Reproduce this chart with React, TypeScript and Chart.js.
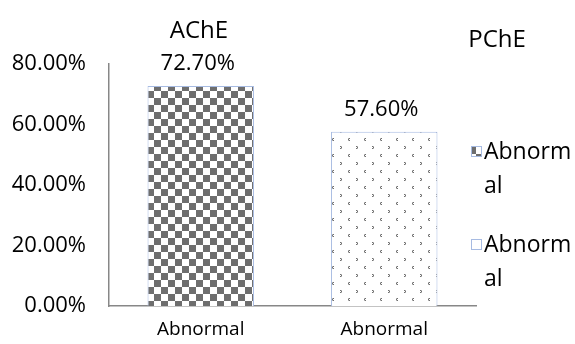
import { useEffect, useRef } from 'react';
import { Chart, registerables } from 'chart.js';

Chart.register(...registerables);

const categories = ['Abnormal', 'Abnormal'];
const seriesNames = ['Abnormal', 'Abnormal'];
const groupTitles = ['AChE', 'PChE'];
const acheValues: (number | null)[] = [72.7, null];
const pcheValues: (number | null)[] = [null, 57.6];
const yTickValues = [0, 20, 40, 60, 80];

const FONT = "'Open Sans', sans-serif";

function makeChecker(): CanvasPattern | string {
  const c = document.createElement('canvas');
  c.width = 14;
  c.height = 14;
  const g = c.getContext('2d');
  if (!g) return '#888';
  g.fillStyle = '#ffffff';
  g.fillRect(0, 0, 14, 14);
  g.fillStyle = '#6e6e6e';
  g.fillRect(0, 0, 7, 7);
  g.fillRect(7, 7, 7, 7);
  return g.createPattern(c, 'repeat') as CanvasPattern;
}

function makeDots(): CanvasPattern | string {
  const c = document.createElement('canvas');
  c.width = 16;
  c.height = 16;
  const g = c.getContext('2d');
  if (!g) return '#eee';
  g.fillStyle = '#ffffff';
  g.fillRect(0, 0, 16, 16);
  g.fillStyle = '#707070';
  // ">" shape
  g.fillRect(4, 2, 1, 1);
  g.fillRect(5, 3, 1, 1);
  g.fillRect(4, 4, 1, 1);
  g.fillStyle = '#b0b0b0';
  g.fillRect(5, 2, 1, 1);
  g.fillRect(5, 4, 1, 1);
  g.fillStyle = '#707070';
  // "<" shape
  g.fillRect(13, 10, 1, 1);
  g.fillRect(12, 11, 1, 1);
  g.fillRect(13, 12, 1, 1);
  g.fillStyle = '#b0b0b0';
  g.fillRect(12, 10, 1, 1);
  g.fillRect(12, 12, 1, 1);
  return g.createPattern(c, 'repeat') as CanvasPattern;
}

export default function App() {
  const ref = useRef<HTMLCanvasElement | null>(null);

  useEffect(() => {
    if (!ref.current) return;
    const checker = makeChecker();
    const dots = makeDots();
    const fills = [checker, dots];

    const overlay = {
      id: 'overlay',
      afterDraw(chart: any) {
        const ctx = chart.ctx;
        ctx.save();
        ctx.fillStyle = '#000';
        ctx.textAlign = 'center';
        ctx.textBaseline = 'middle';
        // value labels
        ctx.font = `22px ${FONT}`;
        chart.data.datasets.forEach((ds: any, di: number) => {
          const meta = chart.getDatasetMeta(di);
          meta.data.forEach((el: any, i: number) => {
            const v = ds.data[i];
            if (v == null) return;
            ctx.fillText(v.toFixed(2) + '%', el.x - 3, el.y - 22);
          });
        });
        // group titles
        ctx.font = `24px ${FONT}`;
        ctx.fillText(groupTitles[0], 199, 31);
        ctx.fillText(groupTitles[1], 497, 40);
        // legend
        const legendY = [152, 245];
        ctx.textAlign = 'left';
        ctx.font = `23px ${FONT}`;
        seriesNames.forEach((name, i) => {
          const y = legendY[i];
          ctx.fillStyle = fills[i] as any;
          ctx.fillRect(471, y - 6, 11, 11);
          ctx.strokeStyle = '#a7bbe2';
          ctx.lineWidth = 1;
          ctx.strokeRect(471.5, y - 5.5, 10, 10);
          ctx.fillStyle = '#000';
          const first = name.slice(0, 6);
          const rest = name.slice(6);
          ctx.fillText(first, 484, y);
          ctx.fillText(rest, 484, y + 34);
        });
        ctx.restore();
      },
    };

    const chart = new Chart(ref.current, {
      type: 'bar',
      data: {
        labels: categories,
        datasets: [
          {
            label: seriesNames[0],
            data: acheValues,
            backgroundColor: checker as any,
            borderColor: '#a7bbe2',
            borderWidth: 1,
            barPercentage: 0.58,
            categoryPercentage: 1,
          },
          {
            label: seriesNames[1],
            data: pcheValues,
            backgroundColor: dots as any,
            borderColor: '#a7bbe2',
            borderWidth: 1,
            barPercentage: 0.58,
            categoryPercentage: 1,
          },
        ],
      },
      options: {
        animation: false,
        responsive: true,
        maintainAspectRatio: false,
        layout: { padding: { left: 0, right: 99, top: 64, bottom: 0 } },
        plugins: {
          legend: { display: false },
          tooltip: { enabled: false },
        },
        scales: {
          x: {
            stacked: true,
            grid: { display: false, drawTicks: false },
            border: { display: true, color: '#878787', width: 1.5 },
            ticks: {
              color: '#000',
              font: { family: FONT, size: 19 },
              padding: 12,
            },
            afterFit(s: any) {
              s.height = 38;
            },
          },
          y: {
            stacked: true,
            min: 0,
            max: 80,
            grid: { display: false, drawTicks: false },
            border: { display: true, color: '#878787', width: 1.5 },
            afterBuildTicks(s: any) {
              s.ticks = yTickValues.map((v) => ({ value: v }));
            },
            ticks: {
              color: '#000',
              font: { family: FONT, size: 22 },
              padding: 23,
              callback: (v: any) => Number(v).toFixed(2) + '%',
            },
            afterFit(s: any) {
              s.width = 109;
            },
          },
        },
      },
      plugins: [overlay],
    });
    return () => chart.destroy();
  }, []);

  return (
    <div style={{ position: 'absolute', left: 0, top: 0, width: 575, height: 344, background: '#fff' }}>
      <canvas ref={ref} />
    </div>
  );
}
